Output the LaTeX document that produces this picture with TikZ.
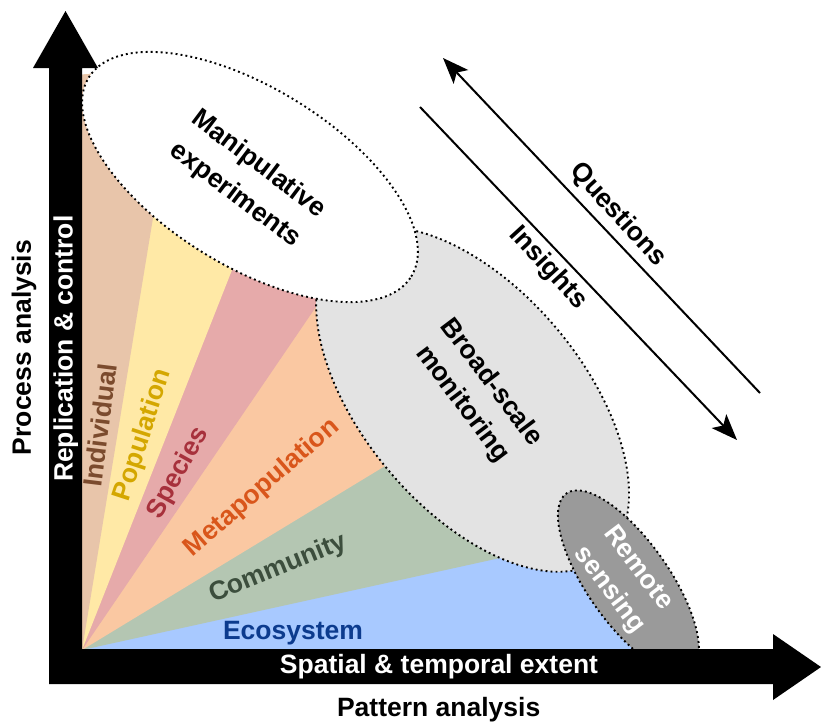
\documentclass[tikz,border=0pt]{standalone}
\usepackage{fontspec}
\setmainfont{Liberation Sans}
\usetikzlibrary{shapes.geometric,arrows.meta}
\definecolor{cInd}{HTML}{E8C5AA}
\definecolor{cPop}{HTML}{FFE9A6}
\definecolor{cSpe}{HTML}{E6AAAA}
\definecolor{cMet}{HTML}{FAC8A2}
\definecolor{cCom}{HTML}{B4C6B2}
\definecolor{cEco}{HTML}{A8C9FF}
\definecolor{tInd}{HTML}{7B4B2E}
\definecolor{tPop}{HTML}{D4A700}
\definecolor{tSpe}{HTML}{A7313C}
\definecolor{tMet}{HTML}{D9561B}
\definecolor{tCom}{HTML}{3C4E3D}
\definecolor{tEco}{HTML}{0C3B8E}
\definecolor{cGrey}{HTML}{E3E3E3}
\definecolor{cRem}{HTML}{9A9A9A}
\begin{document}
\begin{tikzpicture}[x=1pt,y=-1pt,
  lbl/.style={font=\fontsize{26.5}{36}\selectfont\bfseries, inner sep=0pt, align=center},
  zone/.style={ellipse, draw=black, line width=1.9pt, dash pattern=on 1.9pt off 3.1pt, inner sep=0pt},
  flow/.style={line width=2pt, -{Stealth[length=26pt,width=20pt,inset=6pt]}}]
\useasboundingbox (0,0) rectangle (821,723);
\coordinate (O) at (82,650);
% fan of organisational levels
\begin{scope}
\clip (O) -- (82,75) -- (120,70) -- (320,260) -- (360,330) -- (440,480) -- (560,545) -- (620,600) -- (645,650) -- cycle;
\fill[cEco] (O) -- (1500,650) -- (1500,-300) -- (82,-300) -- cycle;
\fill[cCom] (O) -- (1336,374) -- (1336,-300) -- (82,-300) -- cycle;
\fill[cMet] (O) -- (991,98) -- (991,-300) -- (82,-300) -- cycle;
\fill[cSpe] (O) -- (562,-54) -- (562,-300) -- (82,-300) -- cycle;
\fill[cPop] (O) -- (382,-110) -- (382,-300) -- (82,-300) -- cycle;
\fill[cInd] (O) -- (224,-214) -- (224,-300) -- (82,-300) -- cycle;
\end{scope}
% approach ellipses
\node[zone, fill=cGrey, minimum width=410pt, minimum height=220pt, rotate=-50] (bsm) at (472.6,399.5) {};
\node[zone, fill=white, minimum width=379pt, minimum height=178pt, rotate=-31.7] (mex) at (250,177) {};
\node[zone, fill=cRem, minimum width=216pt, minimum height=82pt, rotate=-55] (rs) at (628.4,581.9) {};
% axes
\fill[black] (33,68) -- (65.5,11) -- (98,68) -- (82,68) -- (82,649) -- (773,649) -- (773,634) -- (821,667) -- (773,700) -- (773,684) -- (49,684) -- (49,68) -- cycle;
% questions / insights arrows
\coordinate (q0) at (760,393);
\coordinate (q1) at (443,58);
\coordinate (i0) at (420,107);
\coordinate (i1) at (737,440);
\draw[flow] (q0) -- (q1);
\draw[flow] (i0) -- (i1);
% labels
\node[lbl, rotate=-47.5] (qlab) at (618,215) {Questions};
\node[lbl, rotate=-47.5] (ilab) at (548,268) {Insights};
\node[lbl, font=\fontsize{26.5}{38.5}\selectfont\bfseries, rotate=-37] (mexlab) at (246.7,180) {Manipulative\\experiments};
\node[lbl, rotate=-53] (bsmlab) at (476.5,393.5) {Broad-scale\\monitoring};
\node[lbl, text=white, rotate=-53] (rslab) at (623.3,579.3) {Remote\\sensing};
\node[lbl, text=tInd, rotate=83] (lind) at (100,425) {Individual};
\node[lbl, text=tPop, rotate=72] (lpop) at (143.3,435) {Population};
\node[lbl, text=tSpe, rotate=61] (lspe) at (178.3,473.3) {Species};
\node[lbl, text=tMet, rotate=41] (lmet) at (262,488) {Metapopulation};
\node[lbl, text=tCom, rotate=22] (lcom) at (278,569) {Community};
\node[lbl, text=tEco] (leco) at (293,633) {Ecosystem};
\node[lbl, text=white] (xin) at (439,666.4) {Spatial \& temporal extent};
\node[lbl] (xout) at (438.7,709.8) {Pattern analysis};
\node[lbl, text=white, rotate=90] (yin) at (65.8,348.7) {Replication \& control};
\node[lbl, rotate=90] (yout) at (24,347.5) {Process analysis};
\end{tikzpicture}
\end{document}
